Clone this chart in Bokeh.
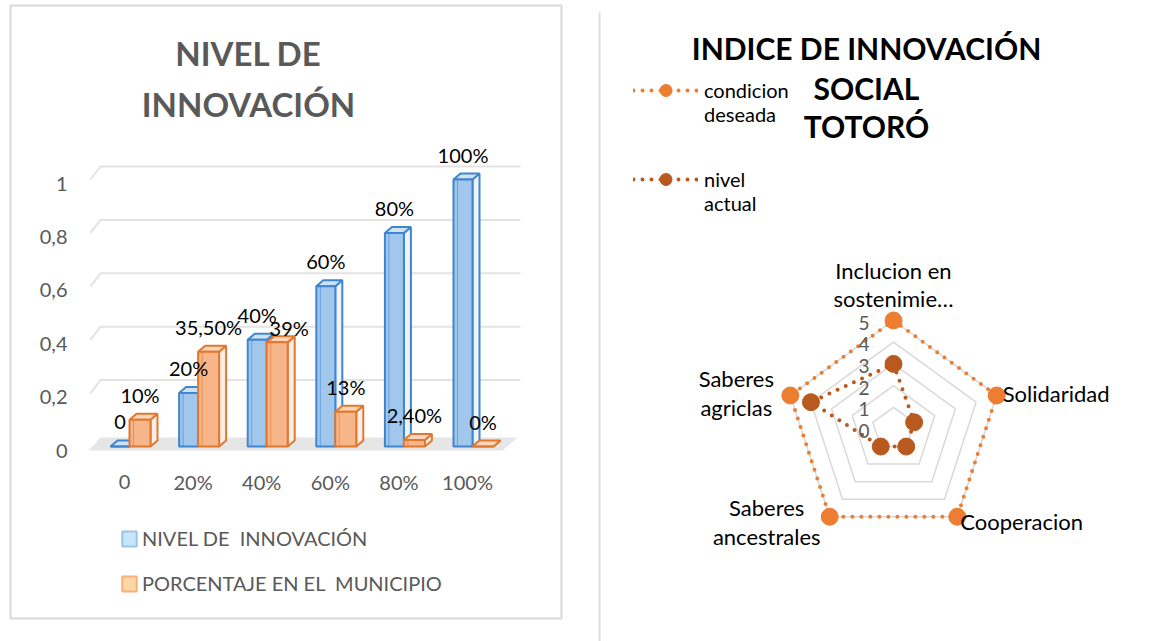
import math
from bokeh.plotting import figure
from bokeh.models import Range1d, Legend, LegendItem, ColumnDataSource
from bokeh.layouts import row
from bokeh.core.properties import value
from bokeh.embed import file_html
from bokeh.resources import INLINE

# ---------------- data ----------------
categories = ["0", "20%", "40%", "60%", "80%", "100%"]
nivel_innovacion = [0.0, 0.2, 0.4, 0.6, 0.8, 1.0]
porcentaje_municipio = [0.10, 0.355, 0.39, 0.13, 0.024, 0.0]
nivel_labels = ["0", "20%", "40%", "60%", "80%", "100%"]
porcentaje_labels = ["10%", "35,50%", "39%", "13%", "2,40%", "0%"]
y_ticks = [0, 0.2, 0.4, 0.6, 0.8, 1.0]
y_tick_labels = ["0", "0,2", "0,4", "0,6", "0,8", "1"]
series_names = ["NIVEL DE  INNOVACIÓN", "PORCENTAJE EN EL  MUNICIPIO"]

radar_axes = ["Inclucion en\nsostenimie…", "Solidaridad", "Cooperacion",
              "Saberes\nancestrales", "Saberes\nagriclas"]
condicion_deseada = [5, 5, 5, 5, 5]
nivel_actual = [3, 1, 1, 1, 4]
radar_ticks = [0, 1, 2, 3, 4, 5]
radar_series = ["condicion\ndeseada", "nivel\nactual"]

FONT = value("Lato")
GRAY = "#595959"
NAN = float("nan")

# ---------------- left: 3D column chart ----------------
W1, H = 598, 641
X0, SX = 124.0, 68.6      # px of category 0, px per category
Y0, SY = 446.0, 267.0     # px of value 0, px per unit

def lx(px):
    return (px - X0) / SX

def ly(py):
    return (Y0 - py) / SY

p1 = figure(width=W1, height=H, output_backend="svg", toolbar_location=None,
            x_range=Range1d(lx(0), lx(W1)), y_range=Range1d(ly(H), ly(0)),
            x_axis_location=None, y_axis_location=None, min_border=0)
p1.outline_line_color = None
p1.grid.visible = False
p1.background_fill_color = "white"
p1.border_fill_color = "white"

# chart box
p1.quad(left=[lx(10)], right=[lx(561)], top=[ly(5)], bottom=[ly(618)],
        fill_alpha=0, line_color="#d9d9d9", line_width=2)

# value axis tick labels and category labels
p1.text(x=[lx(67)] * len(y_ticks), y=[t - 4 / SY for t in y_ticks], text=y_tick_labels,
        text_font=FONT, text_font_size="20px", text_color=GRAY,
        text_align="right", text_baseline="middle")
p1.text(x=list(range(len(categories))), y=[ly(481)] * len(categories), text=categories,
        text_font=FONT, text_font_size="20px", text_color=GRAY,
        text_align="center", text_baseline="middle")

# back-wall gridlines with 3D diagonal
gdx, gdy = 10 / SX, 13 / SY
gx0, gx1 = lx(90), lx(520)
p1.multi_line(xs=[[gx0, gx0 + gdx, gx1] for v in y_ticks[1:]],
              ys=[[v, v + gdy, v + gdy] for v in y_ticks[1:]],
              line_color="#e3e3e3", line_width=2)
# floor
p1.patch(x=[lx(88), lx(502), lx(517), lx(100)],
         y=[-4 / SY, -4 / SY, 9 / SY, 9 / SY],
         fill_color="#e6e6e6", line_color=None)

# bars
ddx, ddy = 7 / SX, 6 / SY
blue_l, blue_r = -0.204, 0.073
orng_l, orng_r = 0.073, 0.379

def bar_faces(vals, l_off, r_off):
    fronts, tops, sides = [], [], []
    for i, v in enumerate(vals):
        l, r = i + l_off, i + r_off
        fronts.append((l, r, v))
        tops.append(([l, r, r + ddx, l + ddx], [v, v, v + ddy, v + ddy]))
        sides.append(([r, r + ddx, r + ddx, r], [0, ddy, v + ddy, v]))
    return fronts, tops, sides

for vals, lo, ro, fill, top_fill, side_fill, edge in [
    (nivel_innovacion, blue_l, blue_r, "#A2C7EC", "#cfe2f5", "#eef3f8", "#3F85CF"),
    (porcentaje_municipio, orng_l, orng_r, "#F7B68A", "#fbd5b9", "#f8eee8", "#E0782F"),
]:
    fr, tp, sd = bar_faces(vals, lo, ro)
    p1.patches(xs=[s[0] for s in sd], ys=[s[1] for s in sd],
               fill_color=side_fill, line_color=edge, line_width=2)
    p1.patches(xs=[t[0] for t in tp], ys=[t[1] for t in tp],
               fill_color=top_fill, line_color=edge, line_width=2)
    p1.quad(left=[f[0] for f in fr], right=[f[1] for f in fr],
            bottom=0, top=[f[2] for f in fr],
            fill_color=fill, line_color=edge, line_width=2)
    p1.segment(x0=[f[0] + 4 / SX for f in fr], y0=0, x1=[f[0] + 4 / SX for f in fr],
               y1=[f[2] for f in fr], line_color=edge, line_width=1, line_alpha=0.6)

# data labels
LBL_UP = 25 / SY
p1.text(x=[i + (blue_l + blue_r) / 2 for i in range(len(categories))],
        y=[v + LBL_UP for v in nivel_innovacion], text=nivel_labels,
        text_font=FONT, text_font_size="20px", text_color="#000000",
        text_align="center", text_baseline="middle")
nudge = {2: (12, -11)}
p1.text(x=[i + (orng_l + orng_r) / 2 + nudge.get(i, (0, 0))[0] / SX for i in range(len(categories))],
        y=[v + LBL_UP + nudge.get(i, (0, 0))[1] / SY for i, v in enumerate(porcentaje_municipio)],
        text=porcentaje_labels,
        text_font=FONT, text_font_size="20px", text_color="#000000",
        text_align="center", text_baseline="middle")

# title
p1.text(x=[lx(248), lx(248)], y=[ly(52), ly(103)], text=["NIVEL DE", "INNOVACIÓN"],
        text_font=FONT, text_font_size="33px", text_font_style="bold",
        text_color=GRAY, text_align="center", text_baseline="middle")

# legend (swatch renderers carry no visible points)
sw_src = ColumnDataSource(dict(l=[NAN], r=[NAN], b=[NAN], t=[NAN]))
sw1 = p1.quad(left="l", right="r", bottom="b", top="t", source=sw_src,
              fill_color="#c6e6fb", line_color="#9DC3E6", line_width=2)
sw2 = p1.quad(left="l", right="r", bottom="b", top="t", source=sw_src,
              fill_color="#ffd7a6", line_color="#f5b07c", line_width=2)
leg1 = Legend(items=[LegendItem(label=series_names[0], renderers=[sw1]),
                     LegendItem(label=series_names[1], renderers=[sw2])],
              location=(120, 46), orientation="vertical",
              glyph_width=18, glyph_height=19, label_height=24,
              spacing=21, padding=0, margin=0, label_standoff=4,
              border_line_color=None, background_fill_alpha=0,
              label_text_font="Lato", label_text_font_size="20px",
              label_text_color=GRAY)
p1.add_layout(leg1)

# ---------------- right: radar chart ----------------
W2 = 1173 - W1
CX, CY, U = 295.0, 428.5, 21.7   # centre (px within this canvas), px per radar unit

def rx(px):
    return (px - CX) / U

def ry(py):
    return (CY - py) / U

p2 = figure(width=W2, height=H, output_backend="svg", toolbar_location=None,
            x_range=Range1d(rx(0), rx(W2)), y_range=Range1d(ry(H), ry(0)),
            x_axis_location=None, y_axis_location=None, min_border=0)
p2.outline_line_color = None
p2.grid.visible = False
p2.background_fill_color = "white"
p2.border_fill_color = "white"

# separator line
p2.segment(x0=[rx(1)], y0=[ry(12)], x1=[rx(1)], y1=[ry(H)], line_color="#d9d9d9", line_width=2)

n = len(radar_axes)
ang = [math.pi / 2 - 2 * math.pi * k / n for k in range(n)]

def polar(vals):
    xs = [v * math.cos(a) for v, a in zip(vals, ang)]
    ys = [v * math.sin(a) for v, a in zip(vals, ang)]
    return xs, ys

gxs, gys = [], []
for lv in radar_ticks[1:]:
    xs, ys = polar([lv] * n)
    gxs.append(xs + xs[:1])
    gys.append(ys + ys[:1])
p2.multi_line(xs=gxs, ys=gys, line_color="#d9d9d9", line_width=1.5)

legend_items = []
for vals, col, name in [(condicion_deseada, "#ED7D31", radar_series[0]),
                        (nivel_actual, "#B85A1F", radar_series[1])]:
    xs, ys = polar(vals)
    ln = p2.line(x=xs + xs[:1], y=ys + ys[:1], line_color=col, line_width=4,
                 line_dash="0 9", line_cap="round")
    sc = p2.scatter(x=xs, y=ys, size=17, fill_color=col, line_color=col)
    # leading blank line keeps the marker level with the first text line
    legend_items.append(LegendItem(label="\n" + name, renderers=[ln, sc]))

# radial tick labels
p2.text(x=[rx(271)] * len(radar_ticks), y=[t - 2 / U for t in radar_ticks],
        text=[str(t) for t in radar_ticks],
        text_font=FONT, text_font_size="19px", text_color=GRAY,
        text_align="right", text_baseline="middle")

# category labels
vx, vy = polar([5] * n)
lab_nudge = [(0, -36, "center"), (6, -2, "left"), (3, 5, "left"),
             (-63, 5, "center"), (-54, -2.5, "center")]
for k in range(n):
    dx, dy, al = lab_nudge[k]
    p2.text(x=[vx[k] + dx / U], y=[vy[k] - dy / U], text=[radar_axes[k]],
            text_font=FONT, text_font_size="22px", text_color="#000000",
            text_align=al, text_baseline="middle", text_line_height=1.06)

# title
p2.text(x=[rx(268)] * 3, y=[ry(47), ry(87), ry(125)],
        text=["INDICE DE INNOVACIÓN", "SOCIAL", "TOTORÓ"],
        text_font=FONT, text_font_size="30px", text_font_style="bold",
        text_color="#000000", text_align="center", text_baseline="middle")

leg2 = Legend(items=legend_items, location=(35, 426), orientation="vertical",
              glyph_width=65, glyph_height=30, spacing=17, padding=0, margin=0,
              label_standoff=6, border_line_color=None, background_fill_alpha=0,
              label_text_font="Lato", label_text_font_size="20px",
              label_text_color="#000000")
p2.add_layout(leg2)

layout = row(p1, p2)
open("out.html", "w").write(file_html(layout, INLINE))
